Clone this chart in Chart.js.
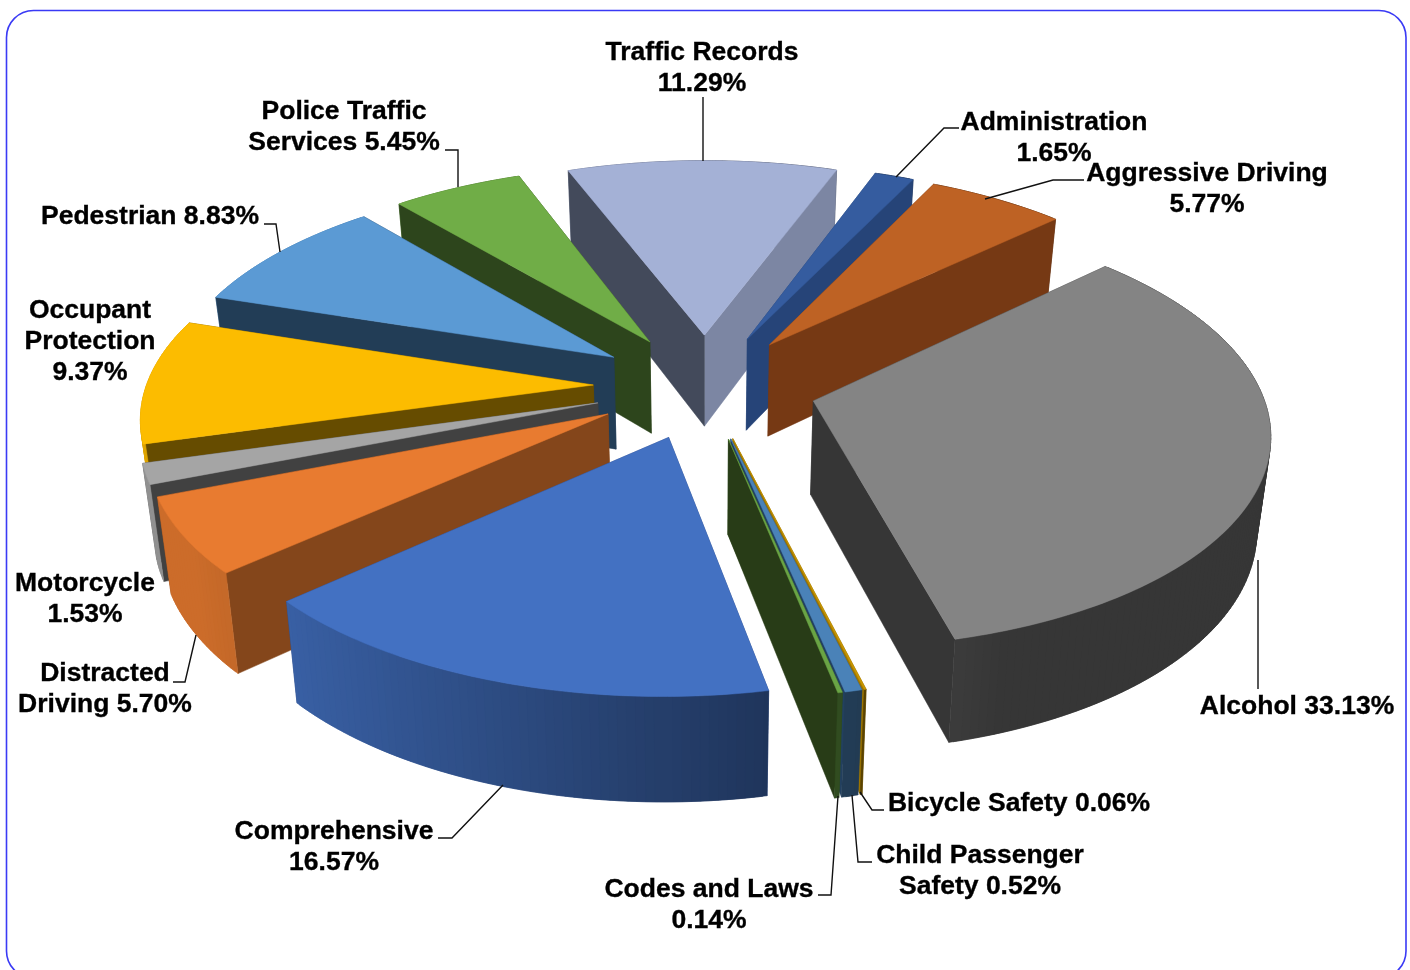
<!DOCTYPE html>
<html>
<head>
<meta charset="utf-8">
<title>Program funding share</title>
<script src="https://cdn.jsdelivr.net/npm/chart.js@4"></script>
<style>
html, body { margin: 0; padding: 0; background: #fff; }
canvas { display: block; }
</style>
</head>
<body>
<canvas id="pie" width="1410" height="970"></canvas>
<script>
// Program areas, clockwise from the top right
const categories = ['Administration', 'Aggressive Driving', 'Alcohol', 'Bicycle Safety', 'Child Passenger Safety',
  'Codes and Laws', 'Comprehensive', 'Distracted Driving', 'Motorcycle', 'Occupant Protection', 'Pedestrian',
  'Police Traffic Services', 'Traffic Records'];
const shares = [1.65, 5.77, 33.13, 0.06, 0.52, 0.14, 16.57, 5.70, 1.53, 9.37, 8.83, 5.45, 11.29];

// Slice styling
const topColors = ['#355c9f', '#be6224', '#848484', '#c99600', '#4a82b8', '#6aa445', '#4371c2', '#e87b30',
  '#a5a5a5', '#fcbc00', '#5b9ad4', '#70ad47', '#a4b1d6'];
const startFaces = ['#264478', '#763914', '#363636', '#7a5c00', '#264868', '#2b4a1a', '#2a4580', '#84461b',
  '#414141', '#664c00', '#223d56', '#2d451c', '#434a5b'];
const endFaces = ['#264478', '#763914', '#363636', '#9c7400', '#224060', '#283c17', '#2a4580', '#84461b',
  '#414141', '#664c00', '#223d56', '#2d451c', '#7c86a3'];
const explode = [52.5, 52.5, 52.5, 52.5, 52.5, 52.5, 52.5, 52.5, 52.5, 52.5, 52.5, 52.5, 52.5];

// Label text wrapping: number of words on each line, with centre position of the block
const labelWraps = [[1, 1], [2, 1], [3], [3], [2, 2], [3, 1], [1, 1], [1, 2], [1, 1], [1, 1, 1], [2], [2, 2], [2, 1]];
const labelCentres = [[1054, 136], [1207, 187], [1297, 705], [1019, 802], [980, 869], [709, 903], [334, 845],
  [105, 687], [85, 597], [90, 340], [150, 215], [344, 125], [702, 66]];
const leaders = [
  [[959, 128], [944, 128], [896, 177]],
  [[985, 199], [1053, 180], [1084, 180]],
  [[1258, 560], [1258, 689]],
  [[860, 792], [872, 810], [884, 810]],
  [[852, 795], [858, 862], [872, 862]],
  [[838, 796], [831, 895], [818, 895]],
  [[503, 785], [452, 838], [438, 838]],
  [[196, 635], [185, 682], [173, 682]],
  [],
  [],
  [[280, 252], [276, 224], [264, 224]],
  [[458, 187], [458, 150], [445, 150]],
  [[703, 97], [703, 161]]
];

// Perspective of the tilted disc
const VIEW = { widen: 2.129, foreshorten: 0.132, dropY: 93, baseWiden: 0.975, baseTall: 1.04 };

function shadeHex(hex, f) {
  const n = parseInt(hex.slice(1), 16);
  const c = [n >> 16 & 255, n >> 8 & 255, n & 255].map(v => Math.round(v * f));
  return `rgb(${c[0]},${c[1]},${c[2]})`;
}

// Wall brightness depends on how far the outward normal leans to the lit left side
function wallShade(angle) {
  return Math.min(0.88, Math.max(0.41, 0.47 + 0.404 * (0.19 - Math.cos(angle))));
}

const pie3d = {
  id: 'pie3d',
  beforeDraw(chart) {
    const ctx = chart.ctx;
    ctx.save();
    ctx.strokeStyle = '#3a3af5';
    ctx.lineWidth = 1.6;
    ctx.beginPath();
    ctx.roundRect(6.5, 10.5, 1399.5, 967.5, 27);
    ctx.stroke();
    ctx.restore();
  },
  beforeDatasetsDraw(chart) {
    const ctx = chart.ctx;
    const arcs = chart.getDatasetMeta(0).data;
    const order = arcs.map((el, i) => i).sort((a, b) => {
      const ma = (arcs[a].startAngle + arcs[a].endAngle) / 2;
      const mb = (arcs[b].startAngle + arcs[b].endAngle) / 2;
      return Math.sin(ma) - Math.sin(mb);
    });
    order.forEach(i => drawSlice(ctx, arcs[i], i));
    return false;
  },
  afterDraw(chart) {
    const ctx = chart.ctx;
    ctx.save();
    ctx.strokeStyle = '#111';
    ctx.lineWidth = 1.4;
    leaders.forEach(path => {
      if (!path.length) return;
      ctx.beginPath();
      path.forEach(([x, y], k) => k ? ctx.lineTo(x, y) : ctx.moveTo(x, y));
      ctx.stroke();
    });
    ctx.fillStyle = '#000';
    ctx.strokeStyle = '#000';
    ctx.lineWidth = 0.35;
    ctx.font = 'bold 26.5px "Liberation Sans", Arial, sans-serif';
    ctx.textAlign = 'center';
    ctx.textBaseline = 'alphabetic';
    categories.forEach((name, i) => {
      const words = `${name} ${shares[i].toFixed(2)}%`.split(' ');
      const wrap = labelWraps[i];
      const [cx, cy] = labelCentres[i];
      let used = 0;
      wrap.forEach((count, line) => {
        const text = words.slice(used, used + count).join(' ');
        const y = cy + 9 + (line - (wrap.length - 1) / 2) * 31;
        used += count;
        ctx.fillText(text, cx, y);
        ctx.strokeText(text, cx, y);
      });
    });
    ctx.restore();
  }
};

function drawSlice(ctx, el, i) {
  const props = el.getProps(['x', 'y', 'startAngle', 'endAngle', 'outerRadius']);
  const R = props.outerRadius;
  const mid = (props.startAngle + props.endAngle) / 2;
  const e = el.options.offset / R;
  const ax = e * Math.cos(mid), ay = e * Math.sin(mid);

  const top = (px, py) => {
    const w = 1 - VIEW.foreshorten * py;
    return [props.x + VIEW.widen * R * px / w, props.y + R * py / w];
  };
  const base = (px, py) => {
    const w = 1 - VIEW.foreshorten * py;
    return [props.x + VIEW.baseWiden * VIEW.widen * R * px / w,
            props.y + VIEW.dropY + VIEW.baseTall * R * py / w];
  };
  const rim = a => [ax + Math.cos(a), ay + Math.sin(a)];

  const fillPoly = (pts, color) => {
    ctx.beginPath();
    pts.forEach(([x, y], k) => k ? ctx.lineTo(x, y) : ctx.moveTo(x, y));
    ctx.closePath();
    ctx.fillStyle = color;
    ctx.strokeStyle = color;
    ctx.lineWidth = 0.5;
    ctx.fill();
    ctx.stroke();
  };

  // Collect side faces, then paint them from the back of the disc to the front
  const faces = [];
  const addFace = (p, q, color, depth) => faces.push({
    depth,
    pts: [top(...p), top(...q), base(...q), base(...p)],
    color
  });
  const apex = [ax, ay];
  const startRim = rim(props.startAngle), endRim = rim(props.endAngle);
  addFace(apex, startRim, startFaces[i], (apex[1] + startRim[1]) / 2);
  addFace(apex, endRim, endFaces[i], (apex[1] + endRim[1]) / 2);
  const span = props.endAngle - props.startAngle;
  const steps = Math.max(1, Math.ceil(span / (Math.PI / 180)));
  // Neighbouring wall strips overlap a little so no seam shows between them
  const overlap = span / steps * 0.5;
  for (let s = 0; s < steps; s++) {
    const a0 = Math.max(props.startAngle, props.startAngle + span * s / steps - overlap);
    const a1 = Math.min(props.endAngle, props.startAngle + span * (s + 1) / steps + overlap);
    const centre = props.startAngle + span * (s + 0.5) / steps;
    addFace(rim(a0), rim(a1), shadeHex(topColors[i], wallShade(centre)), rim(centre)[1]);
  }
  faces.sort((f, g) => f.depth - g.depth).forEach(f => fillPoly(f.pts, f.color));

  const surface = [top(...apex)];
  for (let s = 0; s <= steps; s++) {
    surface.push(top(...rim(props.startAngle + span * s / steps)));
  }
  fillPoly(surface, topColors[i]);
}

new Chart(document.getElementById('pie'), {
  type: 'pie',
  plugins: [pie3d],
  data: {
    labels: categories,
    datasets: [{
      data: shares,
      backgroundColor: topColors,
      borderWidth: 0,
      offset: explode
    }]
  },
  options: {
    responsive: false,
    animation: false,
    events: [],
    rotation: 20.0,
    radius: 210,
    layout: { padding: { bottom: 198 } },
    plugins: { legend: { display: false }, tooltip: { enabled: false } }
  }
});
</script>
</body>
</html>
